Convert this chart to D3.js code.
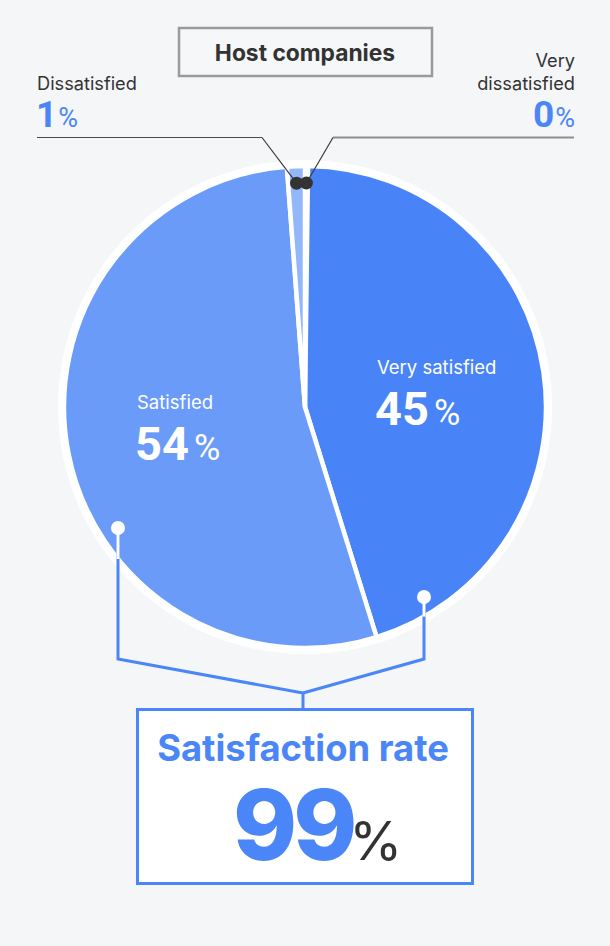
<!DOCTYPE html>
<html>
<head>
<meta charset="utf-8">
<script src="https://cdn.jsdelivr.net/npm/d3@7/dist/d3.min.js"></script>
<style>
  html, body { margin: 0; padding: 0; background: #f5f6f8; }
  svg { display: block; }
</style>
</head>
<body>
<svg id="chart" width="610" height="946"></svg>
<script>
// ---- data ----
const title = "Host companies";
const categories = ["Very dissatisfied", "Very satisfied", "Satisfied", "Dissatisfied"];
const values = [0.2, 45.0, 53.6, 1.2];
const colors = ["#c3d6fc", "#4884f8", "#6a9bf9", "#93b7fb"];
const summaryLabel = "Satisfaction rate";
const summaryParts = ["Very satisfied", "Satisfied"];

// ---- layout ----
const W = 610, H = 946;
const cx = 305, cy = 407, R = 241, ringR = 247;
const blue = "#4a86f8", dark = "#333333";
const numFont = "Roboto, 'DejaVu Sans', sans-serif";
const txtFont = "Inter, 'Noto Sans', sans-serif";

const svg = d3.select("#chart");
svg.append("rect").attr("width", W).attr("height", H).attr("fill", "#f5f6f8");

const pct = v => Math.round(v);
const valOf = name => values[categories.indexOf(name)];

// pie
const pieData = d3.pie().sort(null).value(d => d)(values);
const arc = d3.arc().innerRadius(0).outerRadius(R);
const g = svg.append("g").attr("transform", `translate(${cx},${cy})`);
g.append("circle").attr("r", ringR).attr("fill", "#ffffff");
g.selectAll("path.slice").data(pieData).join("path")
  .attr("class", "slice")
  .attr("d", arc)
  .attr("fill", (d, i) => colors[i])
  .attr("stroke", "#ffffff")
  .attr("stroke-width", 4.5)
  .attr("stroke-linejoin", "round");

// helper: polar (clockwise from top)
const polar = (a, r) => [cx + r * Math.sin(a), cy - r * Math.cos(a)];

// inside labels
function insideLabel(name, x, y) {
  svg.append("text").attr("x", x).attr("y", y)
    .attr("fill", "#ffffff").attr("font-family", txtFont).attr("font-size", 18.5)
    .text(name);
  const n = svg.append("text").attr("x", x - 2).attr("y", y + 51)
    .attr("fill", "#ffffff");
  n.append("tspan").attr("font-family", numFont).attr("font-weight", 700)
    .attr("font-size", 47).text(pct(valOf(name)));
  n.append("tspan").attr("font-family", numFont).attr("font-weight", 400)
    .attr("font-size", 36).attr("dx", 5).text("%");
}
insideLabel("Very satisfied", 377, 374);
insideLabel("Satisfied", 137, 409);

// top callouts
const dotR = 224;
const dIdx = categories.indexOf("Dissatisfied");
const vdIdx = categories.indexOf("Very dissatisfied");
const midA = d => (d.startAngle + d.endAngle) / 2;
const pD = polar(midA(pieData[dIdx]), dotR);
const pVD = polar(midA(pieData[vdIdx]), dotR);
const lineY = 137.5;

svg.append("line").attr("x1", 37).attr("x2", 262).attr("y1", lineY).attr("y2", lineY)
  .attr("stroke", "#4a4a4a").attr("stroke-width", 1.2);
svg.append("line").attr("x1", 262).attr("y1", lineY).attr("x2", pD[0]).attr("y2", pD[1])
  .attr("stroke", "#3a3a3a").attr("stroke-width", 1.2);
svg.append("line").attr("x1", 333).attr("x2", 574).attr("y1", lineY).attr("y2", lineY)
  .attr("stroke", "#8d8d8d").attr("stroke-width", 2.2);
svg.append("line").attr("x1", 333).attr("y1", lineY).attr("x2", pVD[0]).attr("y2", pVD[1])
  .attr("stroke", "#3a3a3a").attr("stroke-width", 1.2);
[pD, pVD].forEach(p => svg.append("circle").attr("cx", p[0]).attr("cy", p[1]).attr("r", 6.5).attr("fill", "#333"));

function outsideLabel(lines, x, anchor) {
  lines.forEach((l, i) => svg.append("text").attr("x", x).attr("y", 90 - (lines.length - 1 - i) * 23.5)
    .attr("text-anchor", anchor).attr("fill", dark)
    .attr("font-family", txtFont).attr("font-size", 18.2).text(l));
}
outsideLabel(["Dissatisfied"], 37, "start");
outsideLabel(["Very", "dissatisfied"], 575, "end");

function outsideNum(name, x, anchor) {
  const n = svg.append("text").attr("x", x).attr("y", 127).attr("text-anchor", anchor).attr("fill", blue);
  n.append("tspan").attr("font-family", numFont).attr("font-weight", 700).attr("font-size", 37).text(pct(valOf(name)));
  n.append("tspan").attr("font-family", numFont).attr("font-weight", 400).attr("font-size", 27).attr("dx", 1).text("%");
}
outsideNum("Dissatisfied", 36, "start");
outsideNum("Very dissatisfied", 575, "end");

// title box
svg.append("rect").attr("x", 179).attr("y", 28).attr("width", 253).attr("height", 48)
  .attr("fill", "#f6f7f9").attr("stroke", "#9a9a9a").attr("stroke-width", 2.5);
svg.append("text").attr("x", 305).attr("y", 61).attr("text-anchor", "middle")
  .attr("fill", dark).attr("font-family", txtFont).attr("font-weight", 700).attr("font-size", 22.8)
  .text(title);

// bracket
const leftDot = [118, 528], rightDot = [424, 597];
const joinY = 659, apex = [303, 693], boxTop = 709;
const bracket = d3.line();
svg.append("path").attr("d", bracket([leftDot, [leftDot[0], joinY], apex, [apex[0], boxTop]]))
  .attr("fill", "none").attr("stroke", blue).attr("stroke-width", 3).attr("stroke-linejoin", "miter");
svg.append("path").attr("d", bracket([rightDot, [rightDot[0], joinY], apex]))
  .attr("fill", "none").attr("stroke", blue).attr("stroke-width", 3);
[leftDot, rightDot].forEach(p => {
  const dx = p[0] - cx;
  const edgeY = cy + Math.sqrt(R * R - dx * dx);
  svg.append("line").attr("x1", p[0]).attr("x2", p[0]).attr("y1", p[1]).attr("y2", edgeY)
    .attr("stroke", "#ffffff").attr("stroke-width", 3);
  svg.append("circle").attr("cx", p[0]).attr("cy", p[1]).attr("r", 7).attr("fill", "#ffffff");
});

// summary box
svg.append("rect").attr("x", 137.5).attr("y", 709.5).attr("width", 335).attr("height", 174)
  .attr("fill", "#ffffff").attr("stroke", blue).attr("stroke-width", 3);
svg.append("text").attr("x", 303).attr("y", 761).attr("text-anchor", "middle")
  .attr("fill", blue).attr("font-family", txtFont).attr("font-weight", 700).attr("font-size", 36.4)
  .text(summaryLabel);
const total = pct(d3.sum(summaryParts.map(valOf)));
const s = svg.append("text").attr("x", 233).attr("y", 860).attr("text-anchor", "start");
s.append("tspan").attr("fill", blue).attr("font-family", txtFont).attr("font-weight", 800)
  .attr("font-size", 97).attr("letter-spacing", -4).text(total);
s.append("tspan").attr("fill", dark).attr("font-family", txtFont).attr("font-weight", 400)
  .attr("font-size", 54).attr("dx", -4).text("%");
</script>
</body>
</html>
